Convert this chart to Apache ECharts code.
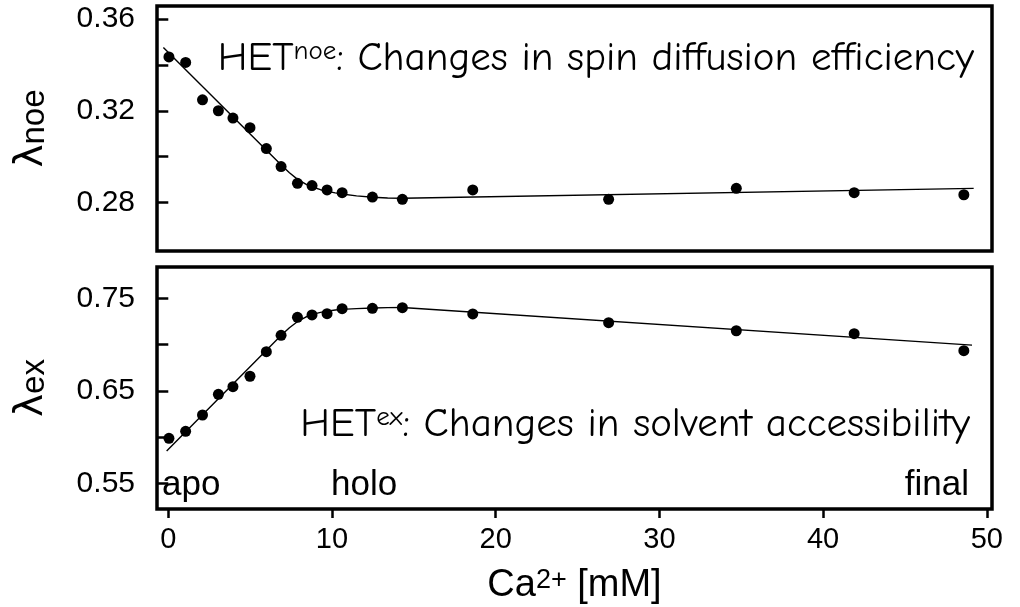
<!DOCTYPE html>
<html>
<head>
<meta charset="utf-8">
<script src="https://cdn.jsdelivr.net/npm/echarts@6/dist/echarts.min.js"></script>
<style>html,body{margin:0;padding:0;background:#fff;}#c{width:1020px;height:607px;}</style>
</head>
<body>
<div id="c"></div>
<script>
// ---- data ----
const caConc = [0.04, 1.06, 2.09, 3.06, 3.95, 4.99, 5.99, 6.89, 7.89, 8.78, 9.70, 10.62, 12.47, 14.3, 18.6, 26.9, 34.7, 41.9, 48.6];
const lambdaNoe = [0.3435, 0.3411, 0.3248, 0.3200, 0.3168, 0.3126, 0.3035, 0.2956, 0.2883, 0.2873, 0.2854, 0.2842, 0.2823, 0.2813, 0.2854, 0.2813, 0.2861, 0.2842, 0.2833];
const lambdaEx = [0.599, 0.6065, 0.6241, 0.6464, 0.6546, 0.6659, 0.6924, 0.7101, 0.7295, 0.7320, 0.7334, 0.7388, 0.7392, 0.7399, 0.7331, 0.7237, 0.7150, 0.7118, 0.6935];

// fitted curves
const noeFitX = [-0.3, 6.9, 7.4, 7.9, 8.4, 8.8, 9.3, 9.7, 10.2, 10.6, 11.5, 12.5, 13.4, 14.3, 49.2];
const noeFitY = [0.3476, 0.2963, 0.2929, 0.2900, 0.2879, 0.2867, 0.2855, 0.2848, 0.2841, 0.2836, 0.2828, 0.2822, 0.2819, 0.2818, 0.2861];
const exFitX = [-0.1, 6.9, 7.4, 7.9, 8.4, 8.8, 9.3, 9.7, 10.2, 10.6, 11.5, 12.5, 13.4, 14.3, 49.1];
const exFitY = [0.5853, 0.7101, 0.7183, 0.7250, 0.7298, 0.7326, 0.7348, 0.7362, 0.7373, 0.7380, 0.7389, 0.7395, 0.7399, 0.7400, 0.6995];

const xTicks = [0, 10, 20, 30, 40, 50];
const noeTicks = [0.28, 0.30, 0.32, 0.34, 0.36];
const noeLabels = [0.28, 0.32, 0.36];
const exTicks = [0.55, 0.60, 0.65, 0.70, 0.75];
const exLabels = [0.55, 0.65, 0.75];

const zip = (a, b) => a.map((v, i) => [v, b[i]]);
const SANS = "'Liberation Sans', Arial, Helvetica, sans-serif";
const COMIC = "'Comic Sans MS', 'Comic Neue', 'DejaVu Sans', sans-serif";

const chart = echarts.init(document.getElementById('c'), null, {renderer: 'canvas'});

function yAxisCfg(gridIndex, min, max, ticks, labels, nameRich) {
  return {
    type: 'value', gridIndex, min, max,
    axisLine: {show: false},
    splitLine: {show: false},
    axisTick: {show: true, inside: false, length: 12, customValues: ticks, lineStyle: {color: '#000', width: 2.5}},
    axisLabel: {show: true, customValues: labels, margin: 22, color: '#000', fontSize: 30, fontFamily: SANS,
      formatter: v => Number(v).toFixed(2)},
    name: nameRich,
    nameLocation: 'middle',
    nameRotate: 90,
    nameGap: 106,
    nameTextStyle: {
      color: '#000',
      rich: {
        l: {fontSize: 39, fontFamily: "'DejaVu Sans', sans-serif", color: '#000', verticalAlign: 'top'},
        s: {fontSize: 33, fontFamily: SANS, color: '#000', verticalAlign: 'bottom'}
      }
    }
  };
}

const option = {
  backgroundColor: '#fff',
  animation: false,
  grid: [
    {left: 157, top: 6, width: 835, height: 245, show: true, borderColor: '#000', borderWidth: 3.5, backgroundColor: 'transparent', outerBoundsMode: 'none'},
    {left: 157, top: 267, width: 835, height: 242, show: true, borderColor: '#000', borderWidth: 3.5, backgroundColor: 'transparent', outerBoundsMode: 'none'}
  ],
  xAxis: [
    {type: 'value', gridIndex: 0, min: -0.69, max: 50.32, axisLine: {show: false}, axisTick: {show: false}, axisLabel: {show: false}, splitLine: {show: false}},
    {type: 'value', gridIndex: 1, min: -0.69, max: 50.32,
      axisLine: {show: false}, splitLine: {show: false},
      axisTick: {show: true, length: 9, customValues: xTicks, lineStyle: {color: '#000', width: 2.5}},
      axisLabel: {show: true, customValues: xTicks, margin: 16, color: '#000', fontSize: 29, fontFamily: SANS},
      name: '{n|Ca}{u|2+}{n| [mM]}',
      nameLocation: 'middle',
      nameGap: 58,
      nameTextStyle: {
        rich: {
          n: {fontSize: 38, fontFamily: SANS, color: '#000', verticalAlign: 'bottom'},
          u: {fontSize: 27, fontFamily: SANS, color: '#000', verticalAlign: 'top'}
        }
      }
    }
  ],
  yAxis: [
    yAxisCfg(0, 0.25872, 0.36577, noeTicks, noeLabels, '{l|λ}{s|noe}'),
    yAxisCfg(1, 0.52271, 0.78376, exTicks, exLabels, '{l|λ}{s|ex}')
  ],
  series: [
    {type: 'line', xAxisIndex: 0, yAxisIndex: 0, data: zip(noeFitX, noeFitY), showSymbol: false, smooth: false,
      lineStyle: {color: '#000', width: 1.4}, z: 2, silent: true},
    {type: 'scatter', xAxisIndex: 0, yAxisIndex: 0, data: zip(caConc, lambdaNoe), symbol: 'circle', symbolSize: 11,
      itemStyle: {color: '#000', opacity: 1}, z: 3},
    {type: 'line', xAxisIndex: 1, yAxisIndex: 1, data: zip(exFitX, exFitY), showSymbol: false, smooth: false,
      lineStyle: {color: '#000', width: 1.4}, z: 2, silent: true},
    {type: 'scatter', xAxisIndex: 1, yAxisIndex: 1, data: zip(caConc, lambdaEx), symbol: 'circle', symbolSize: 11,
      itemStyle: {color: '#000', opacity: 1}, z: 3}
  ],
  graphic: [
    {type: 'text', x: 974, y: 58, z: 10, style: {
      text: '{a|HET}{b|noe}{a|: Changes in spin diffusion efficiency}',
      align: 'right', verticalAlign: 'middle',
      rich: {
        a: {fontSize: 41, fontFamily: COMIC, fill: '#000', verticalAlign: 'bottom'},
        b: {fontSize: 27, fontFamily: COMIC, fill: '#000', verticalAlign: 'top'}
      }
    }},
    {type: 'text', x: 970, y: 424, z: 10, style: {
      text: '{a|HET}{b|ex}{a|: Changes in solvent accessibility}',
      align: 'right', verticalAlign: 'middle',
      rich: {
        a: {fontSize: 41, fontFamily: COMIC, fill: '#000', verticalAlign: 'bottom'},
        b: {fontSize: 27, fontFamily: COMIC, fill: '#000', verticalAlign: 'top'}
      }
    }},
    {type: 'text', x: 162, y: 485, z: 10, style: {text: 'apo', fontSize: 35, fontFamily: SANS, fill: '#000', align: 'left', verticalAlign: 'middle'}},
    {type: 'text', x: 331, y: 485, z: 10, style: {text: 'holo', fontSize: 35, fontFamily: SANS, fill: '#000', align: 'left', verticalAlign: 'middle'}},
    {type: 'text', x: 969, y: 485, z: 10, style: {text: 'final', fontSize: 35, fontFamily: SANS, fill: '#000', align: 'right', verticalAlign: 'middle'}}
  ]
};
chart.setOption(option);
</script>
</body>
</html>
